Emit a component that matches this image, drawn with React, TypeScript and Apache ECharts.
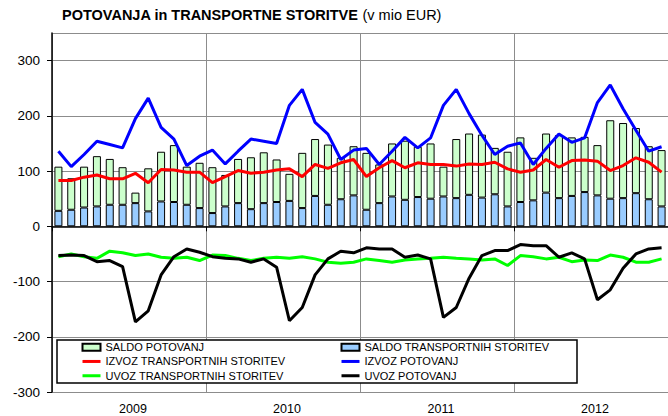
import React, { useEffect, useRef } from 'react';
import * as echarts from 'echarts';

const FONT = '"Liberation Sans", Arial, sans-serif';

const years = ['2009', '2010', '2011', '2012'];
const monthCodes = ['01', '02', '03', '04', '05', '06', '07', '08', '09', '10', '11', '12'];
const months = years.flatMap((y) => monthCodes.map((m) => `${y}-${m}`));

const yTicks = { min: -300, max: 350, interval: 100 };

// SALDO TRANSPORTNIH STORITEV (bottom bar segment)
const saldoTransport = [
  28, 30, 34, 36, 39, 39, 42, 27, 45, 44, 39, 33,
  24, 36, 42, 31, 42, 44, 46, 33, 55, 39, 49, 56,
  30, 42, 54, 48, 53, 50, 54, 51, 57, 52, 58, 36,
  44, 47, 61, 51, 55, 62, 56, 50, 51, 60, 49, 36,
];
// SALDO POTOVANJ (stacked bar segment)
const saldoPotovanj = [
  80, 57, 74, 91, 83, 68, 19, 78, 90, 103, 69, 82,
  83, 57, 80, 94, 92, 77, 49, 100, 103, 109, 75, 89,
  103, 70, 96, 107, 91, 100, 54, 107, 111, 114, 84, 99,
  117, 77, 107, 114, 106, 100, 91, 142, 136, 118, 96, 102,
];
// IZVOZ TRANSPORTNIH STORITEV
const izvozTransport = [
  83, 83, 89, 93, 86, 86, 96, 79, 103, 102, 98, 98,
  79, 90, 101, 96, 98, 102, 104, 90, 112, 105, 115, 121,
  90, 106, 119, 106, 115, 112, 112, 109, 113, 112, 116, 104,
  98, 102, 121, 107, 119, 120, 118, 101, 110, 124, 116, 98,
];
// IZVOZ POTOVANJ
const izvozPotovanj = [
  136, 108, 130, 154, 148, 142, 195, 232, 179, 158, 110, 127,
  138, 113, 136, 158, 154, 150, 219, 248, 188, 167, 121, 138,
  141, 112, 136, 161, 142, 160, 219, 248, 204, 165, 130, 145,
  151, 112, 141, 167, 152, 160, 224, 256, 213, 174, 136, 144,
];
// UVOZ TRANSPORTNIH STORITEV
const uvozTransport = [
  -55, -50, -55, -58, -45, -48, -53, -50, -56, -58, -56, -62,
  -52, -53, -58, -62, -58, -56, -58, -55, -59, -65, -67, -65,
  -59, -62, -65, -61, -59, -58, -56, -58, -59, -61, -59, -71,
  -53, -55, -59, -56, -64, -61, -62, -52, -56, -65, -65, -59,
];
// UVOZ POTOVANJ
const uvozPotovanj = [
  -53, -52, -53, -64, -62, -73, -173, -153, -88, -55, -41, -47,
  -55, -58, -59, -65, -59, -74, -171, -147, -88, -59, -45, -48,
  -39, -41, -41, -56, -52, -59, -165, -147, -94, -53, -44, -44,
  -33, -35, -35, -56, -48, -59, -133, -115, -76, -50, -41, -39,
];

const lineColors: Record<string, string> = {
  'IZVOZ TRANSPORTNIH STORITEV': '#ff0000',
  'IZVOZ POTOVANJ': '#0000ff',
  'UVOZ TRANSPORTNIH STORITEV': '#00ff00',
  'UVOZ POTOVANJ': '#000000',
};

const lineSeries = (name: string, data: number[]) => ({
  name,
  type: 'line',
  xAxisIndex: 1,
  data,
  symbol: 'none',
  showSymbol: false,
  smooth: false,
  z: 3,
  lineStyle: { color: lineColors[name], width: 3 },
  itemStyle: { color: lineColors[name] },
});

const lineLegendItem = (name: string) => ({
  name,
  itemStyle: { opacity: 0 },
  lineStyle: { color: lineColors[name], width: 3, opacity: 1 },
});

const legendText = { fontSize: 11, fontFamily: FONT, color: '#000', lineHeight: 12.3 };

export default function App() {
  const ref = useRef<HTMLDivElement>(null);

  useEffect(() => {
    const chart = echarts.init(ref.current!, null, { renderer: 'svg' });
    const option: any = {
      animation: false,
      backgroundColor: '#fff',
      title: {
        left: 62,
        top: 7,
        padding: 0,
        text: '{b|POTOVANJA in TRANSPORTNE STORITVE}{n| (v mio EUR)}',
        textStyle: {
          fontWeight: 'normal',
          fontSize: 14.5,
          fontFamily: FONT,
          color: '#000',
          rich: {
            b: { fontWeight: 'bold', fontSize: 14.5, fontFamily: FONT, color: '#000' },
            n: { fontWeight: 'normal', fontSize: 14.5, fontFamily: FONT, color: '#000' },
          },
        },
      },
      grid: { left: 52, top: 33, right: -6, bottom: 24, containLabel: false },
      xAxis: [
        {
          type: 'category',
          data: years,
          position: 'bottom',
          boundaryGap: true,
          axisLine: { show: false, onZero: false },
          axisTick: { show: false },
          axisLabel: {
            fontSize: 12.5,
            fontFamily: FONT,
            color: '#000',
            margin: 10,
            padding: [0, 0, 0, 8],
          },
          splitLine: { show: true, interval: 0, lineStyle: { color: '#8c8c8c', width: 1 } },
        },
        {
          type: 'category',
          data: months,
          position: 'bottom',
          boundaryGap: true,
          axisLine: { show: true, onZero: true, lineStyle: { color: '#000', width: 1.5 } },
          axisTick: { show: true, interval: 11, length: 5, lineStyle: { color: '#000', width: 1 } },
          axisLabel: { show: false },
          splitLine: { show: false },
        },
      ],
      yAxis: {
        type: 'value',
        min: yTicks.min,
        max: yTicks.max,
        interval: yTicks.interval,
        axisLine: { show: true, lineStyle: { color: '#000', width: 1.5 } },
        axisTick: { show: true, length: 5, lineStyle: { color: '#000' } },
        axisLabel: {
          fontSize: 13.5,
          fontFamily: FONT,
          color: '#000',
          margin: 12,
          showMaxLabel: false,
        },
        splitLine: { show: true, lineStyle: { color: '#8c8c8c', width: 1 } },
      },
      legend: [
        {
          orient: 'vertical',
          left: 81,
          top: 341,
          padding: 0,
          itemWidth: 18,
          itemHeight: 7,
          itemGap: 2,
          selectedMode: false,
          z: 10,
          textStyle: legendText,
          data: [
            { name: 'SALDO POTOVANJ', icon: 'rect' },
            lineLegendItem('IZVOZ TRANSPORTNIH STORITEV'),
            lineLegendItem('UVOZ TRANSPORTNIH STORITEV'),
          ],
        },
        {
          orient: 'vertical',
          left: 340,
          top: 341,
          padding: 0,
          itemWidth: 18,
          itemHeight: 7,
          itemGap: 2,
          selectedMode: false,
          z: 10,
          textStyle: legendText,
          data: [
            { name: 'SALDO TRANSPORTNIH STORITEV', icon: 'rect' },
            lineLegendItem('IZVOZ POTOVANJ'),
            lineLegendItem('UVOZ POTOVANJ'),
          ],
        },
      ],
      graphic: [
        {
          type: 'rect',
          z: 5,
          shape: { x: 57, y: 340, width: 520, height: 43 },
          style: { fill: '#fff', stroke: '#000', lineWidth: 1.5 },
        },
      ],
      series: [
        {
          name: 'SALDO TRANSPORTNIH STORITEV',
          type: 'bar',
          xAxisIndex: 1,
          stack: 'saldo',
          barWidth: 8,
          data: saldoTransport,
          itemStyle: { color: '#99ccff', borderColor: '#000', borderWidth: 1 },
          z: 2,
        },
        {
          name: 'SALDO POTOVANJ',
          type: 'bar',
          xAxisIndex: 1,
          stack: 'saldo',
          barWidth: 8,
          data: saldoPotovanj,
          itemStyle: { color: '#ccffcc', borderColor: '#000', borderWidth: 1 },
          z: 2,
        },
        lineSeries('IZVOZ TRANSPORTNIH STORITEV', izvozTransport),
        lineSeries('IZVOZ POTOVANJ', izvozPotovanj),
        lineSeries('UVOZ TRANSPORTNIH STORITEV', uvozTransport),
        lineSeries('UVOZ POTOVANJ', uvozPotovanj),
      ],
    };
    chart.setOption(option);
    return () => chart.dispose();
  }, []);

  return (
    <div
      ref={ref}
      style={{ position: 'fixed', left: 0, top: 0, width: 668, height: 416, background: '#fff' }}
    />
  );
}
